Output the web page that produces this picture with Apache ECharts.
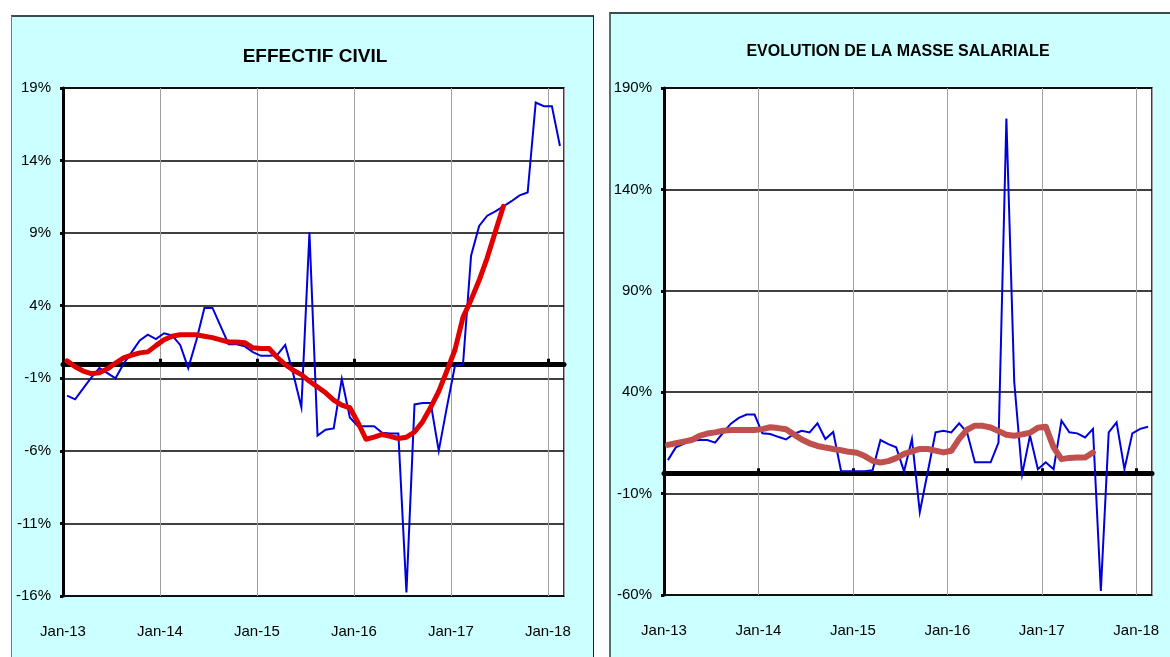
<!DOCTYPE html>
<html><head><meta charset="utf-8">
<script src="https://cdn.jsdelivr.net/npm/echarts@6/dist/echarts.min.js"></script>
<style>
html,body{margin:0;padding:0;background:#fff;width:1170px;height:657px;overflow:hidden;}
.panel{position:absolute;background:#CCFFFF;box-sizing:border-box;}
#p1{left:11px;top:15px;width:583px;height:680px;border:1px solid #6e7d7d;border-top:2px solid #3d4b4b;border-right:1px solid #222;}
#p2{left:609px;top:12px;width:600px;height:680px;border:1px solid #6e7d7d;border-left:2px solid #56706e;border-top:2px solid #3d4b4b;}
#chart{position:absolute;left:0;top:0;width:1170px;height:657px;}
</style></head><body>
<div class="panel" id="p1"></div><div class="panel" id="p2"></div>
<div id="chart"></div>
<script>
// Month categories (Jan-13 .. Feb-18)
const months = [
 'Jan-13','Feb-13','Mar-13','Apr-13','May-13','Jun-13','Jul-13','Aug-13','Sep-13','Oct-13','Nov-13','Dec-13',
 'Jan-14','Feb-14','Mar-14','Apr-14','May-14','Jun-14','Jul-14','Aug-14','Sep-14','Oct-14','Nov-14','Dec-14',
 'Jan-15','Feb-15','Mar-15','Apr-15','May-15','Jun-15','Jul-15','Aug-15','Sep-15','Oct-15','Nov-15','Dec-15',
 'Jan-16','Feb-16','Mar-16','Apr-16','May-16','Jun-16','Jul-16','Aug-16','Sep-16','Oct-16','Nov-16','Dec-16',
 'Jan-17','Feb-17','Mar-17','Apr-17','May-17','Jun-17','Jul-17','Aug-17','Sep-17','Oct-17','Nov-17','Dec-17',
 'Jan-18','Feb-18'];
const xTickLabels = ['Jan-13','Jan-14','Jan-15','Jan-16','Jan-17','Jan-18'];

// EFFECTIF CIVIL (%)
const effectifMonthly = [
 -2.2,-2.45,-1.7,-0.95,-0.3,-0.65,-1.0,0.0,0.8,1.6,2.0,1.7,
 2.1,1.95,1.3,-0.3,1.6,3.85,3.85,2.6,1.35,1.35,1.2,0.8,
 0.55,0.55,0.6,1.3,-0.7,-3.0,9.05,-4.95,-4.55,-4.45,-1.05,-3.7,
 -4.3,-4.3,-4.3,-4.75,-4.8,-4.8,-15.75,-2.8,-2.7,-2.7,-6.0,-3.0,
 -0.15,-0.05,7.45,9.5,10.2,10.5,10.85,11.2,11.6,11.8,18.0,17.75,
 17.75,15.0];
const effectifTrend = [
 0.2,-0.2,-0.5,-0.68,-0.62,-0.35,0.05,0.4,0.6,0.75,0.82,1.25,
 1.65,1.9,2.0,2.0,2.0,1.9,1.8,1.65,1.5,1.5,1.45,1.1,
 1.05,1.05,0.45,-0.05,-0.45,-0.75,-1.2,-1.6,-2.0,-2.5,-2.85,-3.03,
 -4.05,-5.2,-5.05,-4.87,-5.0,-5.15,-5.06,-4.7,-4.0,-3.0,-1.9,-0.5,
 0.95,3.2,4.4,5.75,7.3,9.1,10.85];
const effectifYTicks = [-16,-11,-6,-1,4,9,14,19];

// EVOLUTION DE LA MASSE SALARIALE (%)
const masseMonthly = [
 6.5,12.8,14.5,16.0,16.4,16.4,15.1,20.0,24.5,27.3,29.0,29.0,
 19.7,19.4,18.0,16.7,19.4,21.0,20.2,24.7,16.9,20.4,1.0,1.0,
 1.0,1.0,1.5,16.4,14.4,12.8,1.0,16.9,-19.1,0.5,20.2,21.0,
 20.2,24.7,20.2,5.4,5.4,5.4,15.2,175,45,-0.5,18.6,2.0,
 5.4,2.0,26.0,20.2,19.7,17.7,21.9,-58,20.2,25.1,2.0,19.7,
 21.9,23.0];
const masseTrend = [
 14.0,14.8,15.6,16.4,18.5,19.6,20.2,21.0,21.3,21.4,21.4,21.4,
 21.8,22.7,22.3,21.7,19.2,16.7,14.8,13.5,12.7,12.0,11.4,10.6,
 10.1,8.5,6.2,5.3,6.0,7.5,9.6,10.8,12.0,12.0,11.2,10.3,
 11.1,17.0,21.5,23.5,23.4,22.6,20.8,19.0,18.5,19.2,20.0,22.5,
 23.0,12.8,7.0,7.6,7.8,7.8,10.3];
const masseYTicks = [-60,-10,40,90,140,190];

const FONT = "'Liberation Sans Narrow','Arial Narrow','Liberation Sans',Arial,sans-serif";
const xTickValues = xTickLabels.map(l => months.indexOf(l));
// points sit in the middle of their month on the date axis
const toPts = arr => arr.map((v, k) => [k + 0.5, v]);

function xAxes(gi) {
  return [{
    type: 'value', gridIndex: gi, min: 0, max: months.length, interval: 12,
    axisLine: {show: false, onZero: false},
    axisTick: {show: false},
    axisLabel: {customValues: xTickValues, formatter: v => months[v] || '', margin: 28,
      fontFamily: FONT, fontSize: 15, color: '#000'},
    splitLine: {show: true, lineStyle: {color: '#a0a0a0', width: 1}}
  }, {
    type: 'value', gridIndex: gi, min: 0, max: months.length, interval: 12, position: 'bottom',
    axisLine: {show: true, onZero: true, lineStyle: {color: '#000', width: 5}},
    axisTick: {show: true, inside: true, length: 5, customValues: xTickValues.slice(1),
      lineStyle: {color: '#000', width: 3}},
    axisLabel: {show: false},
    splitLine: {show: false}
  }];
}
function yAxis(gi, ticks) {
  return {
    type: 'value', gridIndex: gi, min: ticks[0], max: ticks[ticks.length - 1],
    axisLine: {show: true, onZero: false, lineStyle: {color: '#000', width: 3}},
    axisTick: {show: true, length: 3, customValues: ticks, lineStyle: {color: '#000', width: 3}},
    axisLabel: {customValues: ticks, formatter: '{value}%', margin: 12,
      fontFamily: FONT, fontSize: 15, color: '#000'},
    splitLine: {show: true, lineStyle: {color: '#000', width: 1.5}}
  };
}

const chart = echarts.init(document.getElementById('chart'), null, {renderer: 'canvas'});
chart.setOption({
  animation: false,
  backgroundColor: 'transparent',
  graphic: [
    {type: 'text', x: 315, y: 57, style: {text: 'EFFECTIF CIVIL', fill: '#000',
      font: "bold 19px 'Liberation Sans', Arial, sans-serif", textAlign: 'center', textVerticalAlign: 'middle'}},
    {type: 'text', x: 898, y: 52, style: {text: 'EVOLUTION DE LA MASSE SALARIALE', fill: '#000',
      font: "bold 16px 'Liberation Sans', Arial, sans-serif", textAlign: 'center', textVerticalAlign: 'middle'}}
  ],
  grid: [
    {left: 63, top: 88, width: 501, height: 508, show: true, backgroundColor: '#fff', borderColor: '#000', borderWidth: 1.5},
    {left: 664, top: 88, width: 488, height: 507, show: true, backgroundColor: '#fff', borderColor: '#000', borderWidth: 1.5}
  ],
  xAxis: [...xAxes(0), ...xAxes(1)],
  yAxis: [yAxis(0, effectifYTicks), yAxis(1, masseYTicks)],
  series: [
    {type: 'line', xAxisIndex: 0, yAxisIndex: 0, data: toPts(effectifMonthly), showSymbol: false,
      lineStyle: {color: '#0000dd', width: 2, join: 'miter'}, z: 3},
    {type: 'line', xAxisIndex: 0, yAxisIndex: 0, data: toPts(effectifTrend), showSymbol: false,
      lineStyle: {color: '#e00000', width: 5, join: 'round', cap: 'round'}, z: 4},
    {type: 'line', xAxisIndex: 2, yAxisIndex: 1, data: toPts(masseMonthly), showSymbol: false,
      lineStyle: {color: '#0000dd', width: 2, join: 'miter'}, z: 3},
    {type: 'line', xAxisIndex: 2, yAxisIndex: 1, data: toPts(masseTrend), showSymbol: false,
      lineStyle: {color: '#c0504d', width: 6, join: 'round', cap: 'round'}, z: 4}
  ]
});
</script></body></html>
